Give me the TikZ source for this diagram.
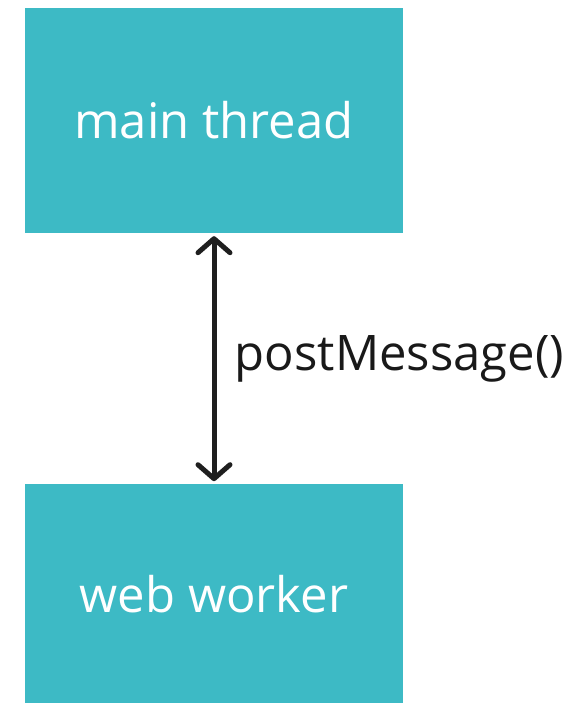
\documentclass[tikz,border=0pt]{standalone}
\usepackage{fontspec}
\setmainfont{Open Sans}
\usepackage{tikz}
\usetikzlibrary{arrows.meta,positioning}
\definecolor{teal1}{HTML}{3DBAC5}
\tikzset{%
	block/.style    = {fill=teal1, rectangle, minimum width=378pt, text=white, font=\fontsize{49}{56}\selectfont},
	label/.style    = {text=black!90, font=\fontsize{49}{56}\selectfont},
	arrow/.style    = {line width=5pt, draw=black!88, {Straight Barb[round,length=14pt,width=32pt]}-{Straight Barb[round,length=14pt,width=32pt]}},
}
\begin{document}
\begin{tikzpicture}[x=1pt,y=-1pt]
		\useasboundingbox (0,0) rectangle (580,704);
		\node [block,minimum height=225pt] (main) at (214,120.5) {main thread};
		\node [block,minimum height=219pt,below=251pt of main] (worker) {web worker};
		
		\draw[arrow,shorten <=3pt,shorten >=3pt] (main) -- node[label,right=15pt] {postMessage()} (worker);
		\end{tikzpicture}
\end{document}
